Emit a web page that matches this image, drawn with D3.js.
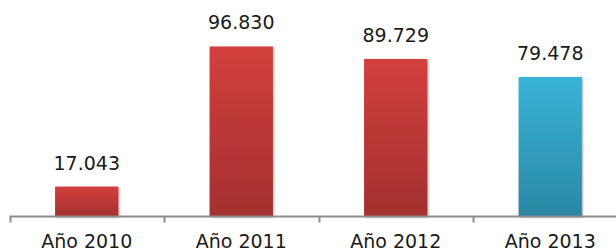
<!DOCTYPE html>
<html>
<head>
<meta charset="utf-8">
<script src="https://cdn.jsdelivr.net/npm/d3@7"></script>
<style>
  body { margin: 0; background: #fff; }
  text { font-family: "DejaVu Sans", sans-serif; fill: #1a1a1a; }
</style>
</head>
<body>
<div id="chart"></div>
<script>
const categories = ["Año 2010", "Año 2011", "Año 2012", "Año 2013"];
const values = [17043, 96830, 89729, 79478];
const valueLabels = ["17.043", "96.830", "89.729", "79.478"];
const highlight = [false, false, false, true];

const width = 616;
const height = 250;
const axisY = 216.5;

const svg = d3.select("#chart")
  .append("svg")
  .attr("width", width)
  .attr("height", height);

const defs = svg.append("defs");

const redGrad = defs.append("linearGradient")
  .attr("id", "red-grad")
  .attr("x1", 0).attr("y1", 0).attr("x2", 0).attr("y2", 1);
redGrad.append("stop").attr("offset", "0%").attr("stop-color", "#d2403d");
redGrad.append("stop").attr("offset", "100%").attr("stop-color", "#a3302e");

const blueGrad = defs.append("linearGradient")
  .attr("id", "blue-grad")
  .attr("x1", 0).attr("y1", 0).attr("x2", 0).attr("y2", 1);
blueGrad.append("stop").attr("offset", "0%").attr("stop-color", "#39b3d8");
blueGrad.append("stop").attr("offset", "100%").attr("stop-color", "#2a88a4");

const shadow = defs.append("filter")
  .attr("id", "shadow")
  .attr("x", "-20%").attr("y", "-20%").attr("width", "140%").attr("height", "140%");
shadow.append("feDropShadow")
  .attr("dx", 1).attr("dy", 1).attr("stdDeviation", 1.2)
  .attr("flood-color", "#000").attr("flood-opacity", 0.3);

const x = d3.scaleBand()
  .domain(categories)
  .range([9.5, 627.5])
  .paddingInner(0.59)
  .paddingOuter(0.295);

const y = d3.scaleLinear()
  .domain([0, 120000])
  .range([axisY, axisY - 210.7]);

// bars
svg.selectAll("rect.bar")
  .data(values)
  .enter()
  .append("rect")
  .attr("class", "bar")
  .attr("x", (d, i) => x(categories[i]))
  .attr("y", d => y(d))
  .attr("width", x.bandwidth())
  .attr("height", d => y(0) - y(d))
  .attr("fill", (d, i) => highlight[i] ? "url(#blue-grad)" : "url(#red-grad)")
  .attr("filter", "url(#shadow)");

// value labels
svg.selectAll("text.value")
  .data(values)
  .enter()
  .append("text")
  .attr("class", "value")
  .attr("x", (d, i) => x(categories[i]) + x.bandwidth() / 2)
  .attr("y", d => y(d) - 17)
  .attr("text-anchor", "middle")
  .style("font-size", "19px")
  .text((d, i) => valueLabels[i]);

// axis line
const step = x.step();
const x0 = x.range()[0];
svg.append("line")
  .attr("x1", x0).attr("x2", x.range()[1])
  .attr("y1", axisY).attr("y2", axisY)
  .attr("stroke", "#8c8c8c")
  .attr("stroke-width", 2);

// tick marks at category boundaries
svg.selectAll("line.tick")
  .data(d3.range(categories.length + 1))
  .enter()
  .append("line")
  .attr("class", "tick")
  .attr("x1", i => Math.round(x0 + i * step) + 0.5)
  .attr("x2", i => Math.round(x0 + i * step) + 0.5)
  .attr("y1", axisY)
  .attr("y2", axisY + 6)
  .attr("stroke", "#8c8c8c")
  .attr("stroke-width", 2);

// category labels
svg.selectAll("text.cat")
  .data(categories)
  .enter()
  .append("text")
  .attr("class", "cat")
  .attr("x", d => x(d) + x.bandwidth() / 2)
  .attr("y", 248)
  .attr("text-anchor", "middle")
  .style("font-size", "19px")
  .text(d => d);
</script>
</body>
</html>
